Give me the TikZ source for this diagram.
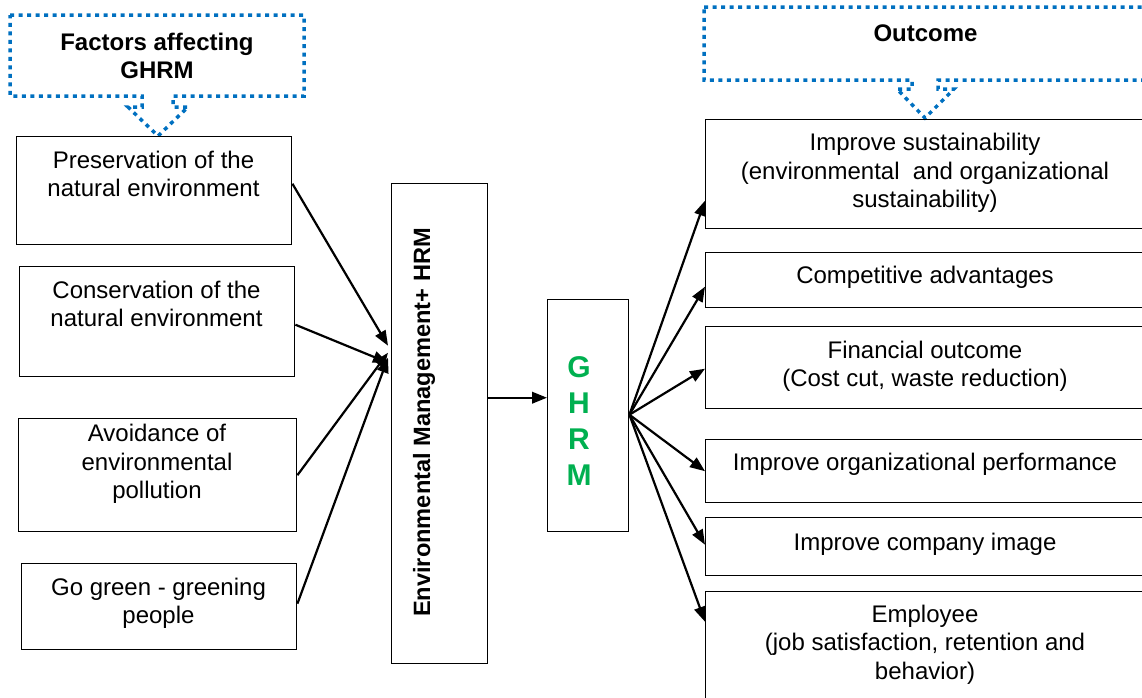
\documentclass[tikz,border=0pt]{standalone}
\usepackage{fontspec}
\setmainfont{Liberation Sans}
\usetikzlibrary{arrows.meta}
\definecolor{callblue}{HTML}{0070C0}
\definecolor{ghgreen}{HTML}{00B050}
\tikzset{
  box/.style={draw=black, line width=1.4pt, inner sep=0pt, anchor=north west},
  txt/.style={font=\fontsize{24}{28.3}\selectfont, align=center, inner sep=0pt},
  btxt/.style={font=\fontsize{24}{28.3}\selectfont\bfseries, align=center, inner sep=0pt},
  conn/.style={line width=2.2pt, -{Triangle[length=15pt,width=11.5pt]}},
  callout/.style={draw=callblue, line width=3.5pt, dash pattern=on 4pt off 4.5pt, line join=miter},
}
\begin{document}
\begin{tikzpicture}[x=1pt,y=-1pt]
\useasboundingbox (0,0) rectangle (1142,697);
\clip (0,0) rectangle (1142,697);

% callouts
\draw[callout] (10,15) -- (304,15) -- (304,96) -- (173,96) -- (173,107) -- (188,107)
  -- (158,136) -- (128,107) -- (142,107) -- (142,96) -- (10,96) -- cycle;
\node[btxt] (fac) at (157,56) {Factors affecting\\GHRM};

\draw[callout] (704,7) -- (1160,7) -- (1160,80) -- (938,80) -- (938,89) -- (954,89)
  -- (925,118) -- (897,89) -- (912,89) -- (912,80) -- (704,80) -- cycle;
\node[btxt] (out) at (925.5,33) {Outcome};

% left boxes
\node[box, minimum width=275pt, minimum height=108pt] (L1) at (16,136) {};
\node[box, minimum width=275pt, minimum height=110pt] (L2) at (19,266) {};
\node[box, minimum width=278pt, minimum height=113pt] (L3) at (18,418) {};
\node[box, minimum width=275pt, minimum height=86pt] (L4) at (21,563) {};
\node[txt] (L1t) at (153.5,174) {Preservation of the\\natural environment};
\node[txt] (L2t) at (156.5,304) {Conservation of the\\natural environment};
\node[txt] (L3t) at (157,464) {Avoidance of\\environmental\\pollution};
\node[txt] (L4t) at (158.5,603) {Go green - greening\\people};

% middle boxes
\node[box, minimum width=96pt, minimum height=480pt] (EM) at (391,183) {};
\node[font=\fontsize{23.6}{27}\selectfont\bfseries, inner sep=0pt, rotate=90] (EMt) at (424,422.5)
  {Environmental Management+ HRM};
\node[box, minimum width=81pt, minimum height=232pt] (GH) at (547,299) {};
\node[font=\fontsize{30}{36}\selectfont\bfseries, text=ghgreen, align=center, inner sep=0pt] (GHt)
  at (579,421) {G\\H\\R\\M};

% right boxes
\node[box, minimum width=450pt, minimum height=109pt] (R1) at (705,119) {};
\node[box, minimum width=450pt, minimum height=55pt] (R2) at (705,252) {};
\node[box, minimum width=450pt, minimum height=82pt] (R3) at (705,326) {};
\node[box, minimum width=450pt, minimum height=63pt] (R4) at (705,439) {};
\node[box, minimum width=450pt, minimum height=58pt] (R5) at (705,517) {};
\node[box, minimum width=450pt, minimum height=130pt] (R6) at (705,591) {};
\node[txt] (R1t) at (925,173) {Improve sustainability\\(environmental~ and organizational\\sustainability)};
\node[txt] (R2t) at (925,277) {Competitive advantages};
\node[txt] (R3t) at (925,366) {Financial outcome\\(Cost cut, waste reduction)};
\node[txt] (R4t) at (925,464.5) {Improve organizational performance};
\node[txt] (R5t) at (925,544) {Improve company image};
\node[txt] (R6t) at (925,644.5) {Employee\\(job satisfaction, retention and\\behavior)};

% connectors left
\draw[conn] ([yshift=7pt]L1.east) -- ([xshift=-3pt,yshift=78pt]EM.west);
\draw[conn] ([yshift=-3pt]L2.east) -- ([xshift=-3pt,yshift=61pt]EM.west);
\draw[conn] (L3.east) -- ([xshift=-3pt,yshift=71pt]EM.west);
\draw[conn] ([yshift=3pt]L4.east) -- ([xshift=-3pt,yshift=66pt]EM.west);

% middle
\draw[conn] ([yshift=26pt]EM.east) -- ([yshift=18pt]GH.west);

% connectors right
\draw[conn] ([yshift=1pt]GH.east) -- ([yshift=-26.5pt]R1.west);
\draw[conn] ([yshift=1pt]GH.east) -- ([yshift=-6.5pt]R2.west);
\draw[conn] ([yshift=1pt]GH.east) -- ([yshift=-1pt]R3.west);
\draw[conn] ([yshift=1pt]GH.east) -- (R4.west);
\draw[conn] ([yshift=1pt]GH.east) -- ([yshift=2pt]R5.west);
\draw[conn] ([yshift=1pt]GH.east) -- ([yshift=35pt]R6.west);
\end{tikzpicture}
\end{document}
